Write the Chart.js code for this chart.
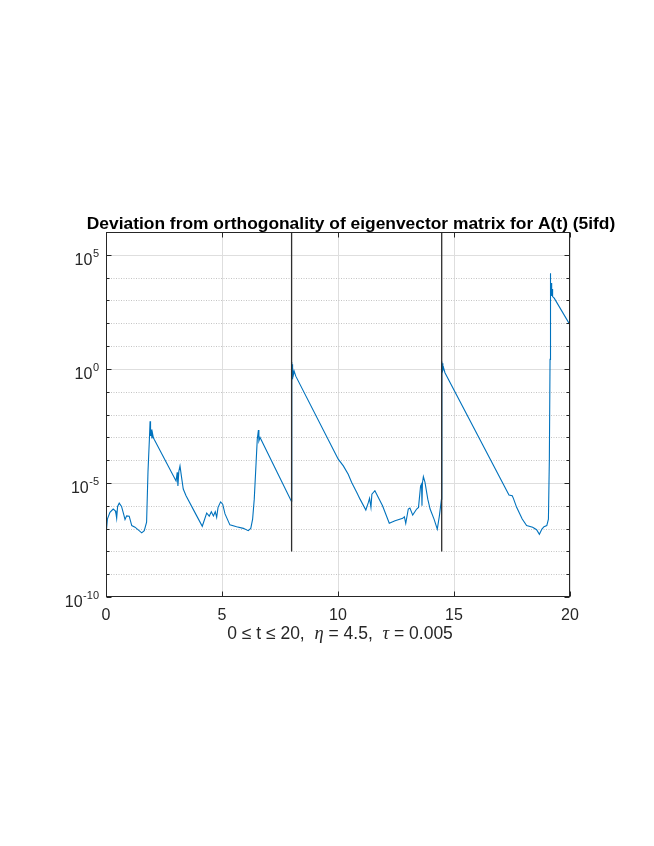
<!DOCTYPE html>
<html>
<head>
<meta charset="utf-8">
<script src="https://cdn.jsdelivr.net/npm/chart.js@4.4.1/dist/chart.umd.min.js"></script>
<style>
  html, body { margin: 0; padding: 0; background: #ffffff; }
  #wrap { width: 654px; height: 846px; position: relative; }
</style>
</head>
<body>
<div id="wrap"><canvas id="c" width="654" height="846"></canvas></div>
<script>
// ---- data ----
const tValues = [
  0.00, 0.06, 0.17, 0.31, 0.40, 0.43, 0.46, 0.50, 0.57, 0.67,
  0.78, 0.82, 0.89, 1.00, 1.11, 1.25, 1.54, 1.65, 1.75, 1.81,
  1.87, 1.90, 1.92, 1.95, 1.98, 2.01, 2.04, 2.08, 3.02, 3.07,
  3.10, 3.14, 3.19, 3.25, 3.33, 3.45, 3.91, 4.15, 4.34, 4.45,
  4.54, 4.63, 4.71, 4.77, 4.83, 4.94, 5.03, 5.13, 5.34, 5.63,
  5.92, 6.13, 6.24, 6.32, 6.39, 6.47, 6.52, 6.57, 6.59, 6.64,
  7.99, 8.00, 8.01, 8.02, 8.035, 8.05, 8.08, 8.11, 8.18, 10.01,
  10.23, 10.44, 10.59, 10.81, 10.95, 11.20, 11.31, 11.36, 11.42, 11.46,
  11.59, 11.70, 11.92, 12.21, 12.46, 12.79, 12.86, 12.92, 13.03, 13.10,
  13.22, 13.39, 13.47, 13.56, 13.60, 13.62, 13.64, 13.68, 13.75, 13.87,
  13.97, 14.14, 14.28, 14.37, 14.46, 14.47, 14.48, 14.50, 14.52, 14.55,
  14.61, 17.37, 17.51, 17.56, 17.70, 17.94, 18.13, 18.39, 18.56, 18.68,
  18.79, 18.88, 19.00, 19.07, 19.11, 19.14, 19.15, 19.17, 19.19, 19.21,
  19.23, 19.25, 19.32, 20.00
];
const deviation = [
  4.9e-8, 2.6e-7, 5.1e-7, 7.2e-7, 6.0e-7, 4.5e-7, 2.8e-7, 9.3e-7, 1.3e-6, 9.3e-7,
  3.6e-7, 2.5e-7, 3.6e-7, 3.5e-7, 1.35e-7, 1.15e-7, 6.5e-8, 8.1e-8, 1.9e-7, 3.2e-5,
  8.1e-4, 5.1e-3, 1.15e-3, 2.2e-3, 8.9e-4, 1.4e-3, 9.8e-4, 8.1e-4, 1.23e-5, 2.9e-5,
  7.4e-6, 3.2e-5, 5.6e-5, 2.0e-5, 5.4e-6, 2.75e-6, 3.6e-7, 1.26e-7, 4.8e-7, 3.5e-7,
  5.5e-7, 3.6e-7, 5.5e-7, 3.1e-7, 8.5e-7, 1.48e-6, 1.17e-6, 4.4e-7, 1.45e-7, 1.2e-7,
  1.02e-7, 8.1e-8, 1.02e-7, 2.6e-7, 1.95e-6, 7.9e-5, 8.1e-4, 2.1e-3, 6.9e-4, 9.8e-4,
  1.58e-6, 2.0, 0.28, 1.58, 0.35, 1.12, 0.56, 0.79, 0.48, 1.1e-4,
  5.6e-5, 2.4e-5, 1.05e-5, 3.8e-6, 1.95e-6, 6.5e-7, 1.4e-6, 2.1e-6, 8.5e-7, 3.2e-6,
  4.6e-6, 2.75e-6, 1.0e-6, 1.7e-7, 2.2e-7, 2.8e-7, 3.3e-7, 1.7e-7, 7.2e-7, 7.9e-7,
  3.9e-7, 7.2e-7, 8.5e-7, 7.4e-6, 8.9e-6, 1.0e-6, 1.0e-5, 1.9e-5, 1.05e-5, 1.95e-6,
  7.2e-7, 2.6e-7, 9.5e-8, 3.6e-7, 1.95e-6, 2.1, 0.71, 1.78, 0.89, 1.12,
  0.68, 2.95e-6, 2.75e-6, 2.1e-6, 8.5e-7, 2.6e-7, 1.35e-7, 1.15e-7, 8.9e-8, 5.6e-8,
  9.5e-8, 1.2e-7, 1.35e-7, 2.6e-7, 1.1e-4, 2.6, 1.55e4, 2100, 5750, 1580,
  3160, 1480, 1260, 85
];
// vertical black markers (restart times)
const markerTimes = [8, 14.47];
const markerRange = [1e-8, 1e6];
// axes
const xMin = 0, xMax = 20, xStep = 5;
const xTickValues = [0, 5, 10, 15, 20];
const yMin = 1e-10, yMax = 1e6;
const yLabelExponents = [-10, -5, 0, 5];
const yDecadeExponents = [-10, -9, -8, -7, -6, -5, -4, -3, -2, -1, 0, 1, 2, 3, 4, 5, 6];
const titleText = 'Deviation from orthogonality of eigenvector matrix for A(t) (5ifd)';
const xLabelParts = [
  { text: '0 \u2264 t \u2264 20,  ', italic: false },
  { text: '\u03B7', italic: true },
  { text: ' = 4.5,  ', italic: false },
  { text: '\u03C4', italic: true },
  { text: ' = 0.005', italic: false }
];

const SANS = "'Liberation Sans', Helvetica, Arial, sans-serif";
const SERIF = "'Liberation Serif', 'Times New Roman', serif";
const AXIS_COLOR = '#262626';

const mainSeries = tValues.map((t, i) => ({ x: t, y: deviation[i] }));
const markerSets = markerTimes.map(t => ({
  data: markerRange.map(v => ({ x: t, y: v })),
  borderColor: '#2e2e2e',
  borderWidth: 1.3,
  pointRadius: 0,
  fill: false
}));

const matlabAxes = {
  id: 'matlabAxes',
  beforeDatasetsDraw(chart) {
    const { ctx, chartArea: a, scales } = chart;
    const ys = scales.y;
    ctx.save();
    ctx.lineWidth = 1;
    yDecadeExponents.forEach(e => {
      if (e === -10 || e === 6) return;
      const y = Math.round(ys.getPixelForValue(Math.pow(10, e))) + 0.5;
      const major = (e % 5 === 0);
      ctx.beginPath();
      if (major) {
        ctx.setLineDash([]);
        ctx.strokeStyle = '#dedede';
      } else {
        ctx.setLineDash([1, 1.5]);
        ctx.strokeStyle = '#c4c4c4';
      }
      ctx.moveTo(a.left, y);
      ctx.lineTo(a.right, y);
      ctx.stroke();
    });
    ctx.restore();
  },
  afterDatasetsDraw(chart) {
    const { ctx, chartArea: a, scales } = chart;
    const xs = scales.x, ys = scales.y;
    ctx.save();
    ctx.setLineDash([]);
    ctx.strokeStyle = AXIS_COLOR;
    ctx.lineWidth = 1;
    const L = Math.round(a.left) + 0.5, R = Math.round(a.right) - 0.5;
    const T = Math.round(a.top) + 0.5, B = Math.round(a.bottom) - 0.5;
    ctx.strokeRect(L, T, R - L, B - T);
    // x ticks (inward, bottom and top)
    xTickValues.forEach(v => {
      const x = Math.round(xs.getPixelForValue(v)) + 0.5;
      ctx.beginPath();
      ctx.moveTo(x, B); ctx.lineTo(x, B - 5);
      ctx.moveTo(x, T); ctx.lineTo(x, T + 5);
      ctx.stroke();
    });
    // y ticks (inward, left and right)
    yDecadeExponents.forEach(e => {
      const y = Math.round(ys.getPixelForValue(Math.pow(10, e))) + 0.5;
      const len = (e % 5 === 0) ? 5 : 3;
      ctx.beginPath();
      ctx.moveTo(L, y); ctx.lineTo(L + len, y);
      ctx.moveTo(R, y); ctx.lineTo(R - len, y);
      ctx.stroke();
    });
    // y labels 10^e
    ctx.fillStyle = AXIS_COLOR;
    ctx.textAlign = 'right';
    ctx.textBaseline = 'alphabetic';
    yLabelExponents.forEach(e => {
      const y = ys.getPixelForValue(Math.pow(10, e));
      const xr = a.left - 7;
      ctx.font = '11px ' + SANS;
      const expStr = String(e);
      const ew = ctx.measureText(expStr).width;
      ctx.fillText(expStr, xr, y + 1.7);
      ctx.font = '16px ' + SANS;
      ctx.fillText('10', xr - ew - 0.5, y + 9.8);
    });
    // title
    ctx.fillStyle = '#000000';
    ctx.textAlign = 'center';
    ctx.font = 'bold 17.4px ' + SANS;
    ctx.fillText(titleText, 351, 228.5);
    // x label with italic greek letters
    ctx.fillStyle = AXIS_COLOR;
    ctx.textAlign = 'left';
    const fonts = p => p.italic ? 'italic 18.5px ' + SERIF : '17.5px ' + SANS;
    let total = 0;
    xLabelParts.forEach(p => { ctx.font = fonts(p); total += ctx.measureText(p.text).width; });
    let x = (a.left + a.right) / 2 + 2 - total / 2;
    xLabelParts.forEach(p => {
      ctx.font = fonts(p);
      ctx.fillText(p.text, x, 639);
      x += ctx.measureText(p.text).width;
    });
    ctx.restore();
  }
};

new Chart(document.getElementById('c'), {
  type: 'line',
  data: {
    datasets: [
      ...markerSets,
      {
        data: mainSeries,
        borderColor: '#0072BD',
        borderWidth: 1.1,
        pointRadius: 0,
        tension: 0,
        fill: false
      }
    ]
  },
  options: {
    responsive: false,
    animation: false,
    devicePixelRatio: 1,
    layout: { padding: { top: 232, right: 84, bottom: 209, left: 0 } },
    plugins: { legend: { display: false }, tooltip: { enabled: false }, title: { display: false } },
    scales: {
      x: {
        type: 'linear',
        min: xMin,
        max: xMax,
        ticks: {
          stepSize: xStep,
          maxRotation: 0,
          padding: 9,
          color: AXIS_COLOR,
          font: { family: SANS, size: 16 }
        },
        grid: { drawTicks: false, color: '#dedede', lineWidth: 1 },
        border: { display: false },
        afterFit: s => { s.height = 40; }
      },
      y: {
        type: 'logarithmic',
        min: yMin,
        max: yMax,
        ticks: { display: false },
        grid: { display: false },
        border: { display: false },
        afterFit: s => { s.width = 106; }
      }
    }
  },
  plugins: [matlabAxes]
});
</script>
</body>
</html>
